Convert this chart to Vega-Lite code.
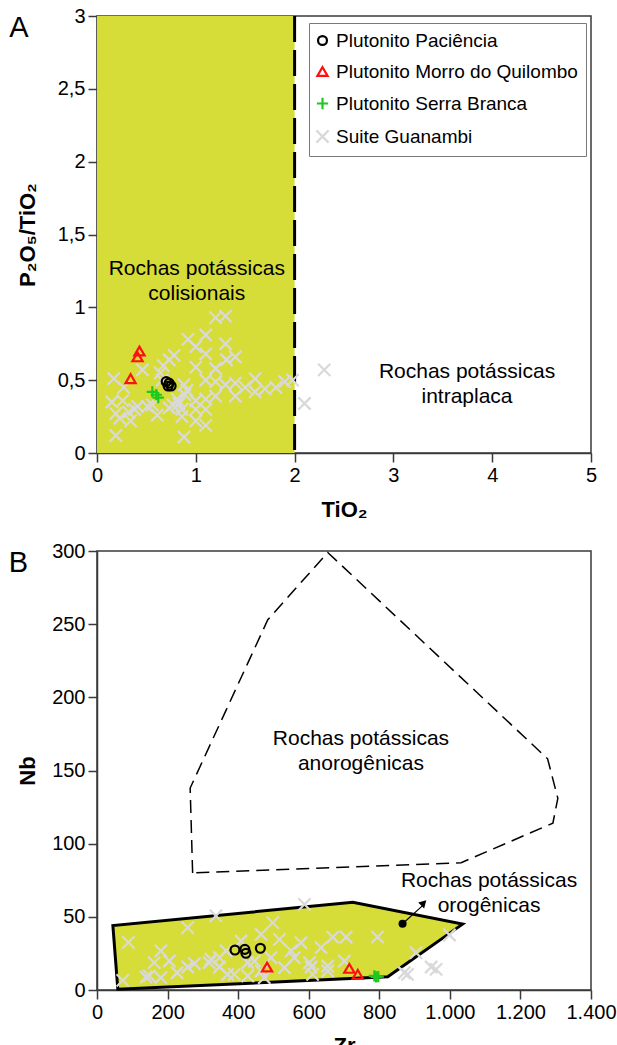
{
  "$schema": "https://vega.github.io/schema/vega-lite/v6.json",
  "background": "white",
  "padding": {"left": 7, "top": 5, "right": 0, "bottom": 0},
  "spacing": 19,
  "datasets": {
    "a_region": [{"x": 0, "x2": 2, "y": 0, "y2": 3}],
    "a_limit": [{"x": 2}],
    "a_labels": [
      {"x": 1.01, "y": 1.266, "label": "Rochas potássicas\ncolisionais"},
      {"x": 3.745, "y": 0.556, "label": "Rochas potássicas\nintraplaca"}
    ],
    "a_pts": [
      {"grupo": "Suite Guanambi", "x": 1.20, "y": 0.93},
      {"grupo": "Suite Guanambi", "x": 1.30, "y": 0.94},
      {"grupo": "Suite Guanambi", "x": 1.10, "y": 0.81},
      {"grupo": "Suite Guanambi", "x": 0.92, "y": 0.78},
      {"grupo": "Suite Guanambi", "x": 1.00, "y": 0.73},
      {"grupo": "Suite Guanambi", "x": 1.30, "y": 0.75},
      {"grupo": "Suite Guanambi", "x": 1.10, "y": 0.68},
      {"grupo": "Suite Guanambi", "x": 0.78, "y": 0.67},
      {"grupo": "Suite Guanambi", "x": 0.73, "y": 0.64},
      {"grupo": "Suite Guanambi", "x": 0.67, "y": 0.60},
      {"grupo": "Suite Guanambi", "x": 0.46, "y": 0.57},
      {"grupo": "Suite Guanambi", "x": 1.31, "y": 0.64},
      {"grupo": "Suite Guanambi", "x": 1.40, "y": 0.66},
      {"grupo": "Suite Guanambi", "x": 1.00, "y": 0.59},
      {"grupo": "Suite Guanambi", "x": 1.20, "y": 0.58},
      {"grupo": "Suite Guanambi", "x": 0.17, "y": 0.51},
      {"grupo": "Suite Guanambi", "x": 0.27, "y": 0.45},
      {"grupo": "Suite Guanambi", "x": 0.64, "y": 0.55},
      {"grupo": "Suite Guanambi", "x": 0.66, "y": 0.50},
      {"grupo": "Suite Guanambi", "x": 1.10, "y": 0.50},
      {"grupo": "Suite Guanambi", "x": 1.20, "y": 0.49},
      {"grupo": "Suite Guanambi", "x": 1.30, "y": 0.47},
      {"grupo": "Suite Guanambi", "x": 1.40, "y": 0.48},
      {"grupo": "Suite Guanambi", "x": 1.50, "y": 0.45},
      {"grupo": "Suite Guanambi", "x": 1.60, "y": 0.51},
      {"grupo": "Suite Guanambi", "x": 1.70, "y": 0.44},
      {"grupo": "Suite Guanambi", "x": 1.81, "y": 0.45},
      {"grupo": "Suite Guanambi", "x": 1.90, "y": 0.49},
      {"grupo": "Suite Guanambi", "x": 1.98, "y": 0.50},
      {"grupo": "Suite Guanambi", "x": 0.88, "y": 0.47},
      {"grupo": "Suite Guanambi", "x": 0.91, "y": 0.43},
      {"grupo": "Suite Guanambi", "x": 0.89, "y": 0.40},
      {"grupo": "Suite Guanambi", "x": 0.81, "y": 0.37},
      {"grupo": "Suite Guanambi", "x": 0.83, "y": 0.34},
      {"grupo": "Suite Guanambi", "x": 1.00, "y": 0.36},
      {"grupo": "Suite Guanambi", "x": 1.10, "y": 0.37},
      {"grupo": "Suite Guanambi", "x": 1.20, "y": 0.39},
      {"grupo": "Suite Guanambi", "x": 1.40, "y": 0.39},
      {"grupo": "Suite Guanambi", "x": 1.60, "y": 0.42},
      {"grupo": "Suite Guanambi", "x": 0.15, "y": 0.35},
      {"grupo": "Suite Guanambi", "x": 0.26, "y": 0.36},
      {"grupo": "Suite Guanambi", "x": 0.19, "y": 0.27},
      {"grupo": "Suite Guanambi", "x": 0.23, "y": 0.24},
      {"grupo": "Suite Guanambi", "x": 0.34, "y": 0.22},
      {"grupo": "Suite Guanambi", "x": 0.32, "y": 0.28},
      {"grupo": "Suite Guanambi", "x": 0.38, "y": 0.30},
      {"grupo": "Suite Guanambi", "x": 0.41, "y": 0.32},
      {"grupo": "Suite Guanambi", "x": 0.51, "y": 0.32},
      {"grupo": "Suite Guanambi", "x": 0.56, "y": 0.33},
      {"grupo": "Suite Guanambi", "x": 0.61, "y": 0.26},
      {"grupo": "Suite Guanambi", "x": 0.73, "y": 0.31},
      {"grupo": "Suite Guanambi", "x": 0.77, "y": 0.33},
      {"grupo": "Suite Guanambi", "x": 0.86, "y": 0.30},
      {"grupo": "Suite Guanambi", "x": 0.86, "y": 0.25},
      {"grupo": "Suite Guanambi", "x": 1.00, "y": 0.30},
      {"grupo": "Suite Guanambi", "x": 1.00, "y": 0.22},
      {"grupo": "Suite Guanambi", "x": 1.10, "y": 0.30},
      {"grupo": "Suite Guanambi", "x": 1.10, "y": 0.19},
      {"grupo": "Suite Guanambi", "x": 0.19, "y": 0.12},
      {"grupo": "Suite Guanambi", "x": 0.88, "y": 0.11},
      {"grupo": "Suite Guanambi", "x": 2.30, "y": 0.57},
      {"grupo": "Suite Guanambi", "x": 2.10, "y": 0.34},
      {"grupo": "Plutonito Paciência", "x": 0.70, "y": 0.49},
      {"grupo": "Plutonito Paciência", "x": 0.72, "y": 0.46},
      {"grupo": "Plutonito Paciência", "x": 0.75, "y": 0.46},
      {"grupo": "Plutonito Paciência", "x": 0.73, "y": 0.48},
      {"grupo": "Plutonito Morro do Quilombo", "x": 0.43, "y": 0.70},
      {"grupo": "Plutonito Morro do Quilombo", "x": 0.41, "y": 0.66},
      {"grupo": "Plutonito Morro do Quilombo", "x": 0.34, "y": 0.51},
      {"grupo": "Plutonito Serra Branca", "x": 0.56, "y": 0.42},
      {"grupo": "Plutonito Serra Branca", "x": 0.60, "y": 0.40},
      {"grupo": "Plutonito Serra Branca", "x": 0.62, "y": 0.38}
    ],
    "b_anorog": [
      {"i": 1, "x": 271, "y": 80},
      {"i": 2, "x": 264, "y": 138},
      {"i": 3, "x": 484, "y": 253},
      {"i": 4, "x": 654, "y": 299},
      {"i": 5, "x": 1277, "y": 158},
      {"i": 6, "x": 1306, "y": 131},
      {"i": 7, "x": 1292, "y": 114},
      {"i": 8, "x": 1032, "y": 87}
    ],
    "b_orog": [
      {"i": 1, "x": 45, "y": 44},
      {"i": 2, "x": 59, "y": 0.5},
      {"i": 3, "x": 824, "y": 9},
      {"i": 4, "x": 1036, "y": 45},
      {"i": 5, "x": 725, "y": 60}
    ],
    "b_labels": [
      {"x": 748, "y": 171.5, "label": "Rochas potássicas\nanorogênicas"},
      {"x": 1111, "y": 74.5, "label": "Rochas potássicas\norogênicas"}
    ],
    "b_dot": [{"x": 866, "y": 45.3}],
    "b_arrow": [{"x": 866, "y": 45.3, "x2": 922, "y2": 57.5}],
    "b_head": [{"x": 926, "y": 59.5}],
    "b_pts": [
      {"grupo": "Suite Guanambi", "x": 73, "y": 6.6},
      {"grupo": "Suite Guanambi", "x": 89, "y": 32.6},
      {"grupo": "Suite Guanambi", "x": 139, "y": 8.9},
      {"grupo": "Suite Guanambi", "x": 148, "y": 9.6},
      {"grupo": "Suite Guanambi", "x": 162, "y": 18.7},
      {"grupo": "Suite Guanambi", "x": 181, "y": 26.7},
      {"grupo": "Suite Guanambi", "x": 181, "y": 8.4},
      {"grupo": "Suite Guanambi", "x": 205, "y": 19.8},
      {"grupo": "Suite Guanambi", "x": 227, "y": 11.8},
      {"grupo": "Suite Guanambi", "x": 257, "y": 42.6},
      {"grupo": "Suite Guanambi", "x": 257, "y": 15.7},
      {"grupo": "Suite Guanambi", "x": 276, "y": 18},
      {"grupo": "Suite Guanambi", "x": 318, "y": 18.7},
      {"grupo": "Suite Guanambi", "x": 323, "y": 21},
      {"grupo": "Suite Guanambi", "x": 337, "y": 50.6},
      {"grupo": "Suite Guanambi", "x": 347, "y": 22.1},
      {"grupo": "Suite Guanambi", "x": 347, "y": 15.7},
      {"grupo": "Suite Guanambi", "x": 366, "y": 26.7},
      {"grupo": "Suite Guanambi", "x": 370, "y": 10.7},
      {"grupo": "Suite Guanambi", "x": 389, "y": 10.7},
      {"grupo": "Suite Guanambi", "x": 408, "y": 33.5},
      {"grupo": "Suite Guanambi", "x": 427, "y": 18.7},
      {"grupo": "Suite Guanambi", "x": 427, "y": 9.6},
      {"grupo": "Suite Guanambi", "x": 446, "y": 19.8},
      {"grupo": "Suite Guanambi", "x": 465, "y": 38},
      {"grupo": "Suite Guanambi", "x": 465, "y": 13},
      {"grupo": "Suite Guanambi", "x": 474, "y": 8.4},
      {"grupo": "Suite Guanambi", "x": 498, "y": 46},
      {"grupo": "Suite Guanambi", "x": 493, "y": 22.1},
      {"grupo": "Suite Guanambi", "x": 517, "y": 34.6},
      {"grupo": "Suite Guanambi", "x": 531, "y": 15.3},
      {"grupo": "Suite Guanambi", "x": 550, "y": 26.7},
      {"grupo": "Suite Guanambi", "x": 559, "y": 22.1},
      {"grupo": "Suite Guanambi", "x": 578, "y": 32.3},
      {"grupo": "Suite Guanambi", "x": 588, "y": 58.5},
      {"grupo": "Suite Guanambi", "x": 602, "y": 18.7},
      {"grupo": "Suite Guanambi", "x": 607, "y": 15.7},
      {"grupo": "Suite Guanambi", "x": 611, "y": 10.7},
      {"grupo": "Suite Guanambi", "x": 635, "y": 28.9},
      {"grupo": "Suite Guanambi", "x": 654, "y": 16.4},
      {"grupo": "Suite Guanambi", "x": 654, "y": 13},
      {"grupo": "Suite Guanambi", "x": 668, "y": 36.2},
      {"grupo": "Suite Guanambi", "x": 706, "y": 36.2},
      {"grupo": "Suite Guanambi", "x": 701, "y": 19.8},
      {"grupo": "Suite Guanambi", "x": 795, "y": 36.2},
      {"grupo": "Suite Guanambi", "x": 871, "y": 11.8},
      {"grupo": "Suite Guanambi", "x": 880, "y": 10.7},
      {"grupo": "Suite Guanambi", "x": 904, "y": 25.5},
      {"grupo": "Suite Guanambi", "x": 947, "y": 15.7},
      {"grupo": "Suite Guanambi", "x": 961, "y": 14.1},
      {"grupo": "Suite Guanambi", "x": 999, "y": 37.6},
      {"grupo": "Plutonito Paciência", "x": 391, "y": 27.3},
      {"grupo": "Plutonito Paciência", "x": 419, "y": 27.8},
      {"grupo": "Plutonito Paciência", "x": 422, "y": 25.1},
      {"grupo": "Plutonito Paciência", "x": 463, "y": 28.5},
      {"grupo": "Plutonito Morro do Quilombo", "x": 482, "y": 15.7},
      {"grupo": "Plutonito Morro do Quilombo", "x": 715, "y": 14.8},
      {"grupo": "Plutonito Morro do Quilombo", "x": 739, "y": 10.7},
      {"grupo": "Plutonito Serra Branca", "x": 786, "y": 9.6},
      {"grupo": "Plutonito Serra Branca", "x": 791, "y": 8.9},
      {"grupo": "Plutonito Serra Branca", "x": 797, "y": 9.2}
    ]
  },
  "vconcat": [
    {
      "width": 494,
      "height": 437,
      "title": {"text": "A"},
      "layer": [
        {
          "data": {"name": "a_region"},
          "mark": {"type": "rect", "fill": "#d6dc38"},
          "encoding": {
            "x": {"field": "x", "type": "quantitative", "title": "TiO₂",
              "scale": {"domain": [0, 5], "nice": false},
              "axis": {"values": [0, 1, 2, 3, 4, 5], "format": "d"}},
            "x2": {"field": "x2"},
            "y": {"field": "y", "type": "quantitative", "title": "P₂O₅/TiO₂",
              "scale": {"domain": [0, 3], "nice": false},
              "axis": {"values": [0, 0.5, 1, 1.5, 2, 2.5, 3], "titlePadding": 17.5,
                "labelExpr": "replace(format(datum.value, '~g'), '.', ',')"}},
            "y2": {"field": "y2"}
          }
        },
        {
          "data": {"name": "a_limit"},
          "mark": {"type": "rule", "color": "black", "strokeWidth": 3, "strokeDash": [26, 8]},
          "encoding": {
            "x": {"field": "x", "type": "quantitative", "title": "TiO₂"}
          }
        },
        {
          "data": {"name": "a_labels"},
          "mark": {"type": "text", "fontSize": 21, "lineBreak": "\n", "lineHeight": 25, "color": "black", "align": "center", "baseline": "middle"},
          "encoding": {
            "x": {"field": "x", "type": "quantitative", "title": "TiO₂"},
            "y": {"field": "y", "type": "quantitative", "title": "P₂O₅/TiO₂"},
            "text": {"field": "label"}
          }
        },
        {
          "data": {"name": "a_pts"},
          "mark": {"type": "point", "filled": false, "opacity": 1},
          "encoding": {
            "x": {"field": "x", "type": "quantitative", "title": "TiO₂"},
            "y": {"field": "y", "type": "quantitative", "title": "P₂O₅/TiO₂"},
            "color": {"field": "grupo", "type": "nominal",
              "scale": {"domain": ["Plutonito Paciência", "Plutonito Morro do Quilombo", "Plutonito Serra Branca", "Suite Guanambi"],
                "range": ["#000000", "#ff1010", "#1ec81e", "#d9d9d9"]},
              "legend": {"orient": "none", "legendX": 212, "legendY": 7, "title": null,
                "labelFontSize": 19, "labelColor": "black", "labelLimit": 400, "strokeColor": "#7a7a7a", "fillColor": "white",
                "padding": 8, "rowPadding": 11, "symbolSize": 48, "symbolStrokeWidth": 1.5,
                "symbolOffset": -4, "labelOffset": 4}},
            "shape": {"field": "grupo", "type": "nominal",
              "scale": {"domain": ["Plutonito Paciência", "Plutonito Morro do Quilombo", "Plutonito Serra Branca", "Suite Guanambi"],
                "range": ["circle", "triangle-up", "M-1,0H1M0,-1V1", "M-1,-1L1,1M-1,1L1,-1"]}},
            "size": {"field": "grupo", "type": "nominal", "legend": null,
              "scale": {"domain": ["Plutonito Paciência", "Plutonito Morro do Quilombo", "Plutonito Serra Branca", "Suite Guanambi"],
                "range": [80, 150, 110, 40]}},
            "strokeWidth": {"field": "grupo", "type": "nominal", "legend": null,
              "scale": {"domain": ["Plutonito Paciência", "Plutonito Morro do Quilombo", "Plutonito Serra Branca", "Suite Guanambi"],
                "range": [2.2, 2.2, 2.6, 1.2]}}
          }
        }
      ]
    },
    {
      "width": 494,
      "height": 439,
      "title": {"text": "B"},
      "layer": [
        {
          "data": {"name": "b_anorog"},
          "mark": {"type": "line", "interpolate": "linear-closed", "stroke": "black", "strokeWidth": 1.5, "strokeDash": [13, 7]},
          "encoding": {
            "x": {"field": "x", "type": "quantitative", "title": "Zr",
              "scale": {"domain": [0, 1400], "nice": false},
              "axis": {"values": [0, 200, 400, 600, 800, 1000, 1200, 1400], "titlePadding": 13,
                "labelExpr": "replace(format(datum.value, ','), ',', '.')"}},
            "y": {"field": "y", "type": "quantitative", "title": "Nb",
              "scale": {"domain": [0, 300], "nice": false},
              "axis": {"values": [0, 50, 100, 150, 200, 250, 300], "titlePadding": 12.5}},
            "order": {"field": "i", "type": "quantitative"}
          }
        },
        {
          "data": {"name": "b_orog"},
          "mark": {"type": "line", "interpolate": "linear-closed", "fill": "#d6dc38", "stroke": "black", "strokeWidth": 3},
          "encoding": {
            "x": {"field": "x", "type": "quantitative", "title": "Zr"},
            "y": {"field": "y", "type": "quantitative", "title": "Nb"},
            "order": {"field": "i", "type": "quantitative"}
          }
        },
        {
          "data": {"name": "b_labels"},
          "mark": {"type": "text", "fontSize": 21, "lineBreak": "\n", "lineHeight": 25, "color": "black", "align": "center", "baseline": "middle"},
          "encoding": {
            "x": {"field": "x", "type": "quantitative", "title": "Zr"},
            "y": {"field": "y", "type": "quantitative", "title": "Nb"},
            "text": {"field": "label"}
          }
        },
        {
          "data": {"name": "b_pts"},
          "mark": {"type": "point", "filled": false, "opacity": 1},
          "encoding": {
            "x": {"field": "x", "type": "quantitative", "title": "Zr"},
            "y": {"field": "y", "type": "quantitative", "title": "Nb"},
            "color": {"field": "grupo", "type": "nominal", "legend": null,
              "scale": {"domain": ["Plutonito Paciência", "Plutonito Morro do Quilombo", "Plutonito Serra Branca", "Suite Guanambi"],
                "range": ["#000000", "#ff1010", "#1ec81e", "#d9d9d9"]}},
            "shape": {"field": "grupo", "type": "nominal", "legend": null,
              "scale": {"domain": ["Plutonito Paciência", "Plutonito Morro do Quilombo", "Plutonito Serra Branca", "Suite Guanambi"],
                "range": ["circle", "triangle-up", "M-1,0H1M0,-1V1", "M-1,-1L1,1M-1,1L1,-1"]}},
            "size": {"field": "grupo", "type": "nominal", "legend": null,
              "scale": {"domain": ["Plutonito Paciência", "Plutonito Morro do Quilombo", "Plutonito Serra Branca", "Suite Guanambi"],
                "range": [80, 150, 110, 40]}},
            "strokeWidth": {"field": "grupo", "type": "nominal", "legend": null,
              "scale": {"domain": ["Plutonito Paciência", "Plutonito Morro do Quilombo", "Plutonito Serra Branca", "Suite Guanambi"],
                "range": [2.2, 2.2, 2.6, 1.2]}}
          }
        },
        {
          "data": {"name": "b_arrow"},
          "mark": {"type": "rule", "color": "black", "strokeWidth": 1.2},
          "encoding": {
            "x": {"field": "x", "type": "quantitative", "title": "Zr"},
            "y": {"field": "y", "type": "quantitative", "title": "Nb"},
            "x2": {"field": "x2"},
            "y2": {"field": "y2"}
          }
        },
        {
          "data": {"name": "b_head"},
          "mark": {"type": "point", "shape": "triangle-up", "filled": true, "color": "black", "size": 70, "angle": 45, "opacity": 1},
          "encoding": {
            "x": {"field": "x", "type": "quantitative", "title": "Zr"},
            "y": {"field": "y", "type": "quantitative", "title": "Nb"}
          }
        },
        {
          "data": {"name": "b_dot"},
          "mark": {"type": "point", "shape": "circle", "filled": true, "color": "black", "size": 65, "opacity": 1},
          "encoding": {
            "x": {"field": "x", "type": "quantitative", "title": "Zr"},
            "y": {"field": "y", "type": "quantitative", "title": "Nb"}
          }
        }
      ]
    }
  ],
  "resolve": {
    "scale": {"color": "independent", "shape": "independent", "size": "independent", "strokeWidth": "independent"},
    "legend": {"color": "independent", "shape": "independent"}
  },
  "config": {
    "font": "Liberation Sans",
    "view": {"stroke": "#3a3a3a", "strokeWidth": 1.5},
    "axis": {
      "domainColor": "#3a3a3a", "domainWidth": 1.5,
      "tickColor": "#3a3a3a", "tickWidth": 1.5, "tickSize": 9,
      "labelPadding": 3, "labelFontSize": 20, "labelColor": "black", "labelFont": "Liberation Sans",
      "titleFont": "Liberation Sans", "titleFontSize": 22, "titleFontWeight": "bold", "titleColor": "black",
      "grid": false, "labelFlush": false, "labelOverlap": false, "zindex": 1
    },
    "axisX": {"titlePadding": 14},
    "legend": {"labelFont": "Liberation Sans"},
    "title": {
      "anchor": "start", "frame": "bounds", "orient": "top", "offset": 0,
      "fontSize": 29, "fontWeight": "normal", "font": "Liberation Sans", "color": "black",
      "dx": -7.5, "dy": 41, "baseline": "alphabetic"
    }
  }
}
